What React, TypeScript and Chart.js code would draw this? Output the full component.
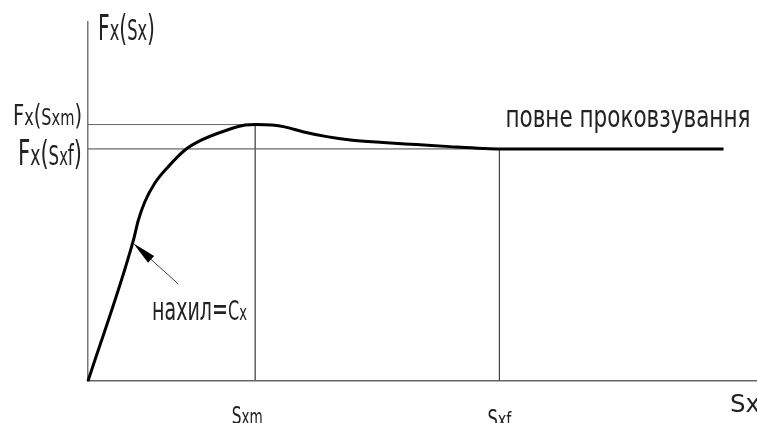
import React, { useEffect, useRef } from "react";
import { Chart, registerables } from "chart.js";

Chart.register(...registerables);

// ---- data ----
const curveX = [0, 0.68, 0.75, 0.85, 1.0, 1.2, 1.45, 1.7, 2.05, 2.35, 2.5, 2.75, 2.94, 3.21, 3.57, 3.92, 4.41, 4.91, 5.41, 5.9, 6.15, 9.5];
const curveY = [0, 0.55, 0.625, 0.699, 0.772, 0.836, 0.901, 0.94, 0.976, 0.998, 1.0, 0.998, 0.991, 0.972, 0.953, 0.94, 0.93, 0.922, 0.914, 0.907, 0.905, 0.905];
const sXm = 2.5;
const sXf = 6.15;
const fXm = 1.0;
const fXf = 0.905;
const xMax = 10;
const yMax = 1.4;
const arrowTip = [0.677, 0.537];
const arrowTail = [1.35, 0.378];

// ---- texts ----
const yTitle = ["F", "x", "(", "S", "x", ")"];
const yLabelM = ["F", "x", "(", "S", "xm", ")"];
const yLabelF = ["F", "x", "(", "S", "x", "f", ")"];
const xLabelM = ["S", "xm"];
const xLabelF = ["S", "xf"];
const xTitle = ["S", "x"];
const slipText = "повне проковзування";
const slopeText = ["нахил=", "C", "x"];

const FONT = '"DejaVu Sans Condensed", "DejaVu Sans", sans-serif';
const INK = "#222";

function rich(
  ctx: CanvasRenderingContext2D,
  parts: string[],
  sizes: number[],
  x: number,
  y: number,
  width: number,
  align: "left" | "right" | "center"
) {
  let total = 0;
  const ws = parts.map((t, i) => {
    ctx.font = `${sizes[i]}px ${FONT}`;
    const w = ctx.measureText(t).width;
    total += w;
    return w;
  });
  const k = width / total;
  const left = align === "right" ? x - width : align === "center" ? x - width / 2 : x;
  ctx.save();
  ctx.translate(left, y);
  ctx.scale(k, 1);
  ctx.fillStyle = INK;
  ctx.textAlign = "left";
  ctx.textBaseline = "alphabetic";
  let cx = 0;
  parts.forEach((t, i) => {
    ctx.font = `${sizes[i]}px ${FONT}`;
    ctx.fillText(t, cx, 0);
    cx += ws[i];
  });
  ctx.restore();
}

const annotations = {
  id: "annotations",
  afterDraw(chart: any) {
    const ctx: CanvasRenderingContext2D = chart.ctx;
    const xs = chart.scales.x;
    const ys = chart.scales.y;
    const ca = chart.chartArea;

    // arrow
    const tx = xs.getPixelForValue(arrowTip[0]);
    const ty = ys.getPixelForValue(arrowTip[1]);
    const sx = xs.getPixelForValue(arrowTail[0]);
    const sy = ys.getPixelForValue(arrowTail[1]);
    const ang = Math.atan2(ty - sy, tx - sx);
    const L = 24;
    const H = 4.5;
    ctx.save();
    ctx.strokeStyle = "#444";
    ctx.lineWidth = 1;
    ctx.beginPath();
    ctx.moveTo(sx, sy);
    ctx.lineTo(tx - Math.cos(ang) * L * 0.8, ty - Math.sin(ang) * L * 0.8);
    ctx.stroke();
    ctx.fillStyle = "#000";
    ctx.beginPath();
    ctx.moveTo(tx, ty);
    const bx = tx - Math.cos(ang) * L;
    const by = ty - Math.sin(ang) * L;
    ctx.lineTo(bx + Math.sin(ang) * H, by - Math.cos(ang) * H);
    ctx.lineTo(bx - Math.sin(ang) * H, by + Math.cos(ang) * H);
    ctx.closePath();
    ctx.fill();
    ctx.restore();

    // texts
    const axisX = ca.left;
    const pyM = ys.getPixelForValue(fXm);
    const pyF = ys.getPixelForValue(fXf);
    const pxM = xs.getPixelForValue(sXm);
    const pxF = xs.getPixelForValue(sXf);
    const bottom = ca.bottom;

    rich(ctx, yTitle, [35, 28, 35, 28, 28, 35], axisX + 10, 40, 57, "left");
    rich(ctx, yLabelM, [28, 23, 28, 23, 21, 28], axisX - 6, pyM, 69, "right");
    rich(ctx, yLabelF, [35, 28, 34, 27, 24, 28, 34], axisX - 6, pyF + 16, 64, "right");
    rich(ctx, xLabelM, [25, 22], pxM - 8, bottom + 43, 31, "center");
    rich(ctx, xLabelF, [25, 22], pxF, bottom + 46, 24, "center");
    rich(ctx, xTitle, [24, 24], ca.right - 27, bottom + 31, 30, "left");
    rich(ctx, [slipText], [31], pxF + 6, pyF - 22, 245, "left");
    rich(ctx, slopeText, [32, 27, 22], 152, 320, 95, "left");
  },
};

export default function App() {
  const ref = useRef<HTMLCanvasElement | null>(null);

  useEffect(() => {
    if (!ref.current) return;
    const chart = new Chart(ref.current, {
      type: "line",
      data: {
        datasets: [
          {
            data: curveX.map((x, i) => ({ x, y: curveY[i] })),
            borderColor: "#000",
            borderWidth: 3,
            pointRadius: 0,
            cubicInterpolationMode: "monotone",
            clip: false as any,
            fill: false,
          },
          {
            data: [
              { x: 0, y: fXm },
              { x: sXm, y: fXm },
              { x: sXm, y: 0 },
            ],
            borderColor: "#666",
            borderWidth: 1,
            pointRadius: 0,
            tension: 0,
            fill: false,
          },
          {
            data: [
              { x: 0, y: fXf },
              { x: sXf, y: fXf },
              { x: sXf, y: 0 },
            ],
            borderColor: "#444",
            borderWidth: 1,
            pointRadius: 0,
            tension: 0,
            fill: false,
          },
        ],
      },
      options: {
        animation: false,
        responsive: false,
        events: [],
        layout: { padding: { left: 88, top: 22, right: 0, bottom: 42 } },
        plugins: { legend: { display: false }, tooltip: { enabled: false } },
        scales: {
          x: {
            type: "linear",
            min: 0,
            max: xMax,
            ticks: { display: false },
            grid: { display: false, drawTicks: false },
            border: { display: true, color: "#666", width: 1.5 },
          },
          y: {
            type: "linear",
            min: 0,
            max: yMax,
            ticks: { display: false },
            grid: { display: false, drawTicks: false },
            border: { display: true, color: "#777", width: 1.5 },
          },
        },
      },
      plugins: [annotations],
    });
    return () => chart.destroy();
  }, []);

  return (
    <div style={{ position: "absolute", left: 0, top: 0, width: 757, height: 423, background: "#fff" }}>
      <canvas ref={ref} width={757} height={423} style={{ display: "block" }} />
    </div>
  );
}
